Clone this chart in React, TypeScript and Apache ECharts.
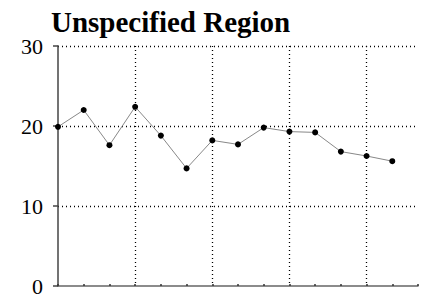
import React, { useEffect, useRef } from "react";
import * as echarts from "echarts";

const xValues = [0, 1, 2, 3, 4, 5, 6, 7, 8, 9, 10, 11, 12, 13];
const yValues = [19.9, 22.0, 17.6, 22.4, 18.8, 14.7, 18.2, 17.7, 19.8, 19.3, 19.2, 16.8, 16.25, 15.6];
const yTicks = [0, 10, 20, 30];
const titleText = "Unspecified Region";

export default function App() {
  const ref = useRef<HTMLDivElement>(null);
  useEffect(() => {
    if (!ref.current) return;
    const chart = echarts.init(ref.current, null, { renderer: "svg" });
    const font = "'Liberation Serif', 'Times New Roman', serif";
    chart.setOption({
      animation: false,
      title: {
        text: titleText,
        left: 46,
        top: 2,
        textStyle: { fontFamily: font, fontWeight: "bold", fontSize: 29, color: "#000" },
      },
      grid: { left: 58, right: 9, top: 46, bottom: 11 },
      xAxis: [
        {
          type: "value",
          min: 0,
          max: 14,
          interval: 1,
          axisLine: { show: true, lineStyle: { color: "#666", width: 1.5 } },
          axisTick: { show: true, inside: true, length: 2, lineStyle: { color: "#333", width: 1.5 } },
          axisLabel: { show: false },
          splitLine: { show: false },
        },
        {
          type: "value",
          min: 0,
          max: 14,
          interval: 3,
          position: "bottom",
          axisLine: { show: false },
          axisTick: { show: false },
          axisLabel: { show: false },
          splitLine: {
            show: true,
            showMinLine: false,
            showMaxLine: false,
            lineStyle: { color: "#000", type: [1, 3], width: 1.3 },
          },
        },
      ],
      yAxis: {
        type: "value",
        min: yTicks[0],
        max: yTicks[yTicks.length - 1],
        interval: 10,
        axisLine: { show: true, lineStyle: { color: "#444", width: 1.5 } },
        axisTick: { show: true, length: 5, lineStyle: { color: "#444", width: 1.5 } },
        axisLabel: { fontFamily: font, fontSize: 22, color: "#000", margin: 15 },
        splitLine: {
          show: true,
          showMinLine: false,
          lineStyle: { color: "#000", type: [1, 3], width: 1.3 },
        },
      },
      series: [
        {
          type: "line",
          xAxisIndex: 0,
          data: xValues.map((x, i) => [x, yValues[i]]),
          lineStyle: { color: "#888", width: 1 },
          itemStyle: { color: "#000" },
          symbol: "circle",
          symbolSize: 6,
          showSymbol: true,
          z: 5,
        },
      ],
    });
    return () => chart.dispose();
  }, []);
  return <div ref={ref} style={{ width: 427, height: 297, position: "absolute", left: 0, top: 0 }} />;
}
